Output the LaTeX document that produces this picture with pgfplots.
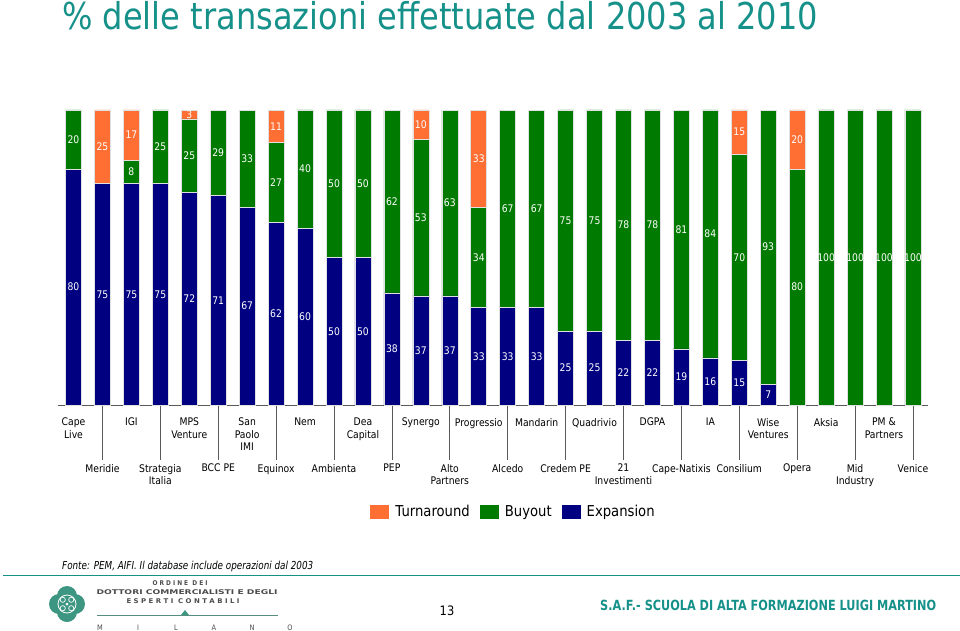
\documentclass[border=0pt]{standalone}
\usepackage{pgfplots}
\pgfplotsset{compat=1.18}
\usepackage{pgfplotstable}
\usepackage{graphicx}
\usepackage{fontspec}
\setmainfont{DejaVu Sans}[FakeStretch=0.88]

\definecolor{cTurn}{HTML}{FF6E32}
\definecolor{cBuy}{HTML}{007A00}
\definecolor{cExp}{HTML}{000080}
\definecolor{cTeal}{HTML}{16918A}
\definecolor{cLogo}{HTML}{3C9682}

\pgfplotstableread{
x exp buy turn
0 80 20 0
1 75 0 25
2 75 8 17
3 75 25 0
4 72 25 3
5 71 29 0
6 67 33 0
7 62 27 11
8 60 40 0
9 50 50 0
10 50 50 0
11 38 62 0
12 37 53 10
13 37 63 0
14 33 34 33
15 33 67 0
16 33 67 0
17 25 75 0
18 25 75 0
19 22 78 0
20 22 78 0
21 19 81 0
22 16 84 0
23 15 70 15
24 7 93 0
25 0 80 20
26 0 100 0
27 0 100 0
28 0 100 0
29 0 100 0
}\datatable

\pgfplotsset{
  sw/.style={legend image code/.code={\fill[##1,draw=none] (0pt,-7pt) rectangle (19pt,7pt);}},
  frame/.style={at={(58pt,-405pt)}, anchor=south west,
    scale only axis, width=870pt, height=295pt,
    xmin=-0.535, xmax=29.52, ymin=0, ymax=100, clip=false},
  lab/.style={draw=none, mark=none, nodes near coords, point meta=explicit symbolic,
    every node near coord/.append style={anchor=center, font=\fontsize{10.5}{12}\selectfont, text=white, inner sep=0pt}},
}

\begin{document}
\begin{tikzpicture}[
  catlab/.style={anchor=north, align=center, inner sep=0pt, font=\fontsize{10.5}{12.5}\selectfont},
]
\useasboundingbox (0,0) rectangle (960pt,-631pt);

% title
\node[anchor=base west, inner sep=0pt, text=cTeal] at (62pt,-30pt)
  {\resizebox{756pt}{\height}{\fontsize{37}{40}\selectfont \% delle transazioni effettuate dal 2003 al 2010}};

\begin{axis}[
  frame,
  ybar stacked, bar width=16pt,
  axis x line*=bottom, axis y line=none,
  x axis line style={-, draw=black!65, line width=0.8pt},
  xtick={1,3,...,29}, xticklabels={},
  major tick length=55pt, tick align=outside,
  xtick style={draw=black!65, line width=0.8pt},
  ytick=\empty,
  legend style={at={(0.5236,-0.363)}, anchor=center, draw=none, fill=none,
    legend columns=-1, font=\fontsize{15}{18}\selectfont,
    nodes={text height=11pt, text depth=3pt},
    /tikz/every odd column/.append style={column sep=4pt},
    /tikz/every even column/.append style={column sep=8pt}},
  reverse legend,
]
\addplot[sw, fill=cExp, draw=white!88!black, line width=0.6pt]
  table[x=x, y=exp]{\datatable};
\addlegendentry{Expansion}
\addplot[sw, fill=cBuy, draw=white!88!black, line width=0.6pt]
  table[x=x, y=buy]{\datatable};
\addlegendentry{Buyout}
\addplot[sw, fill=cTurn, draw=white!88!black, line width=0.6pt]
  table[x=x, y=turn]{\datatable};
\addlegendentry{Turnaround}

% top-row category labels
\node[catlab] at ([yshift=-13pt]axis cs:0,0) {Cape\\Live};
\node[catlab] at ([yshift=-13pt]axis cs:2,0) {IGI};
\node[catlab] at ([yshift=-13pt]axis cs:4,0) {MPS\\Venture};
\node[catlab] at ([yshift=-13pt]axis cs:6,0) {San\\Paolo\\IMI};
\node[catlab] at ([yshift=-13pt]axis cs:8,0) {Nem};
\node[catlab] at ([yshift=-13pt]axis cs:10,0) {Dea\\Capital};
\node[catlab] at ([yshift=-13pt]axis cs:12,0) {Synergo};
\node[catlab] at ([yshift=-13pt]axis cs:14,0) {Progressio};
\node[catlab] at ([yshift=-13pt]axis cs:16,0) {Mandarin};
\node[catlab] at ([yshift=-13pt]axis cs:18,0) {Quadrivio};
\node[catlab] at ([yshift=-13pt]axis cs:20,0) {DGPA};
\node[catlab] at ([yshift=-13pt]axis cs:22,0) {IA};
\node[catlab] at ([yshift=-13pt]axis cs:24,0) {Wise\\Ventures};
\node[catlab] at ([yshift=-13pt]axis cs:26,0) {Aksia};
\node[catlab] at ([yshift=-13pt]axis cs:28,0) {PM \&\\Partners};
% bottom-row category labels
\node[catlab] at ([yshift=-59pt]axis cs:1,0) {Meridie};
\node[catlab] at ([yshift=-59pt]axis cs:3,0) {Strategia\\Italia};
\node[catlab] at ([yshift=-59pt]axis cs:5,0) {BCC PE};
\node[catlab] at ([yshift=-59pt]axis cs:7,0) {Equinox};
\node[catlab] at ([yshift=-59pt]axis cs:9,0) {Ambienta};
\node[catlab] at ([yshift=-59pt]axis cs:11,0) {PEP};
\node[catlab] at ([yshift=-59pt]axis cs:13,0) {Alto\\Partners};
\node[catlab] at ([yshift=-59pt]axis cs:15,0) {Alcedo};
\node[catlab] at ([yshift=-59pt]axis cs:17,0) {Credem PE};
\node[catlab] at ([yshift=-59pt]axis cs:19,0) {21\\Investimenti};
\node[catlab] at ([yshift=-59pt]axis cs:21,0) {Cape-Natixis};
\node[catlab] at ([yshift=-59pt]axis cs:23,0) {Consilium};
\node[catlab] at ([yshift=-59pt]axis cs:25,0) {Opera};
\node[catlab] at ([yshift=-59pt]axis cs:27,0) {Mid\\Industry};
\node[catlab] at ([yshift=-59pt]axis cs:29,0) {Venice};
\end{axis}

% value labels, centred in each segment (same frame, not stacked)
\begin{axis}[frame, hide axis]
\addplot[lab, restrict expr to domain={\thisrow{exp}}{0.5:200}]
  table[x=x, y expr=\thisrow{exp}/2, meta=exp]{\datatable};
\addplot[lab, restrict expr to domain={\thisrow{buy}}{0.5:200}]
  table[x=x, y expr=\thisrow{exp}+\thisrow{buy}/2, meta=buy]{\datatable};
\addplot[lab, restrict expr to domain={\thisrow{turn}}{0.5:200}]
  table[x=x, y expr=\thisrow{exp}+\thisrow{buy}+\thisrow{turn}/2, meta=turn]{\datatable};
\end{axis}

% source note and footer
\node[anchor=base west, inner sep=0pt] at (62pt,-569pt)
  {\resizebox{251pt}{\height}{\fontsize{11}{13}\selectfont\itshape Fonte: PEM, AIFI. Il database include operazioni dal 2003}};
\draw[cTeal, line width=1pt] (3pt,-575pt) -- (960pt,-575pt);
\node[inner sep=0pt] at (447pt,-611pt) {\fontsize{13}{15}\selectfont 13};
\node[anchor=base west, inner sep=0pt, text=cTeal] at (600pt,-610pt)
  {\resizebox{336pt}{\height}{\bfseries\fontsize{14}{16}\selectfont S.A.F.- SCUOLA DI ALTA FORMAZIONE LUIGI MARTINO}};

% logo
\begin{scope}[shift={(67pt,-604pt)}]
  \fill[cLogo] (0,0) circle (13pt);
  \fill[cLogo] (8pt,0) circle (10pt);
  \fill[cLogo] (-8pt,0) circle (10pt);
  \fill[cLogo] (0,8pt) circle (10pt);
  \fill[cLogo] (0,-8pt) circle (10pt);
  \draw[white, line width=0.8pt] (0,0) circle (9pt);
  \foreach \a in {45,135,225,315} {\draw[white, line width=0.7pt] (\a:6pt) circle (2.6pt);}
  \fill[white] (0,0) circle (1.5pt);
\end{scope}
\node[inner sep=0pt, text=black!70] at (180pt,-583pt)
  {\resizebox{55pt}{\height}{\fontsize{6.5}{7}\selectfont\bfseries O R D I N E\ \ D E I}};
\node[inner sep=0pt, text=black!70] at (187pt,-592pt)
  {\resizebox{181pt}{\height}{\fontsize{6.5}{7}\selectfont\bfseries DOTTORI COMMERCIALISTI E DEGLI}};
\node[inner sep=0pt, text=black!70] at (183pt,-601pt)
  {\resizebox{113pt}{\height}{\fontsize{6.5}{7}\selectfont\bfseries E S P E R T I\ \ C O N T A B I L I}};
\draw[cLogo!60!gray, line width=0.6pt] (97pt,-615pt) -- (278pt,-615pt);
\fill[cLogo] (181pt,-615pt) -- (189pt,-615pt) -- (185pt,-610pt) -- cycle;
\foreach \i/\l in {0/M,1/I,2/L,3/A,4/N,5/O}
  {\node[inner sep=0pt, text=black!70] at (100pt+38pt*\i,-628pt) {\fontsize{7.5}{8}\selectfont \l};}
\end{tikzpicture}
\end{document}
